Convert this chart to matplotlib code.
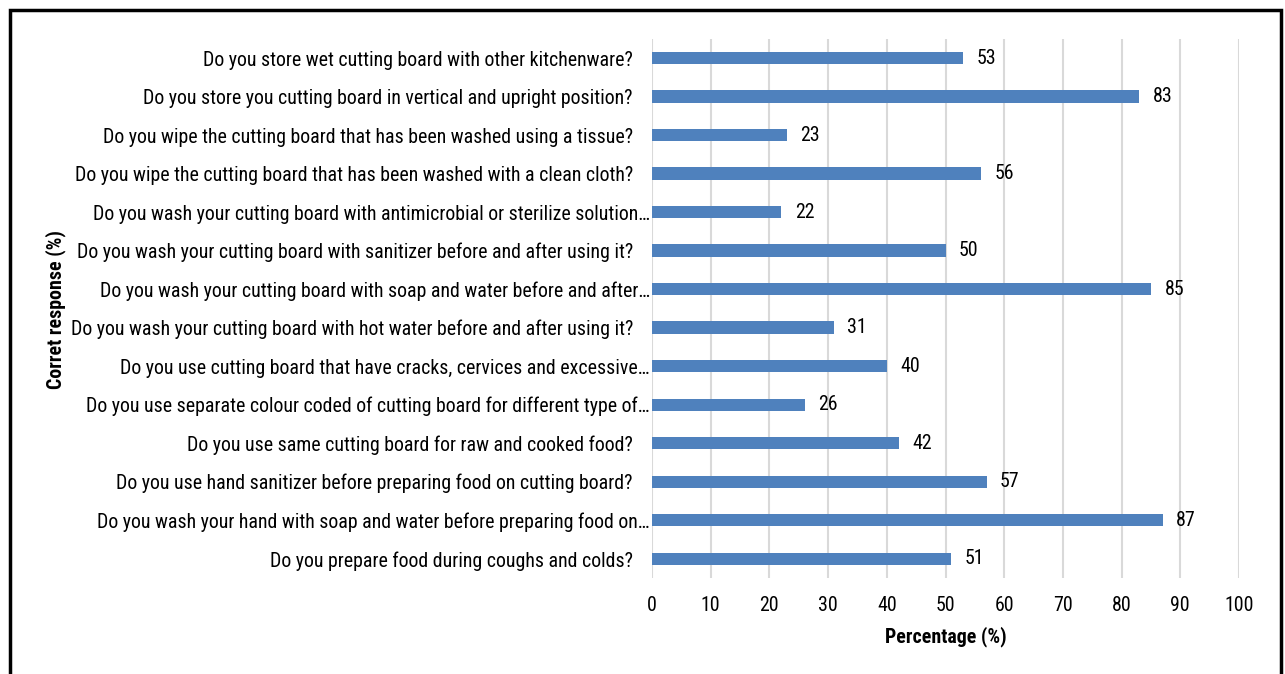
import matplotlib

matplotlib.use("Agg")

import matplotlib.pyplot as plt
from matplotlib.patches import Rectangle
from matplotlib.transforms import ScaledTranslation

plt.rcParams["font.family"] = ["Roboto Condensed", "Archivo Narrow", "Liberation Sans", "DejaVu Sans"]

questions = [
    "Do you store wet cutting board with other kitchenware?",
    "Do you store you cutting board in vertical and upright position?",
    "Do you wipe the cutting board that has been washed using a tissue?",
    "Do you wipe the cutting board that has been washed with a clean cloth?",
    "Do you wash your cutting board with antimicrobial or sterilize solution\u2026",
    "Do you wash your cutting board with sanitizer before and after using it?",
    "Do you wash your cutting board with soap and water before and after\u2026",
    "Do you wash your cutting board with hot water before and after using it?",
    "Do you use cutting board that have cracks, cervices and excessive\u2026",
    "Do you use separate colour coded of cutting board for different type of\u2026",
    "Do you use same cutting board for raw and cooked food?",
    "Do you use hand sanitizer before preparing food on cutting board?",
    "Do you wash your hand with soap and water before preparing food on\u2026",
    "Do you prepare food during coughs and colds?",
]
percent = [53, 83, 23, 56, 22, 50, 85, 31, 40, 26, 42, 57, 87, 51]
x_ticks = list(range(0, 101, 10))

BAR = "#4F81BD"
GRID = "#D9D9D9"
FS = 14.3

fig = plt.figure(figsize=(12.85, 6.74), dpi=100)
ax = fig.add_axes([0.5074, 0.1424, 0.4568, 0.8001])

# top question first
ypos = list(range(len(questions)))[::-1]
ax.barh(ypos, percent, height=0.32, color=BAR, zorder=3)
for y, v in zip(ypos, percent):
    ax.text(v + 2.3, y, f"{v}", va="center", ha="left", fontsize=FS, color="black")

ax.set_ylim(-0.5, len(questions) - 0.5)
ax.set_xlim(0, 100)
ax.set_xticks(x_ticks)
ax.set_yticks(ypos)
ax.set_yticklabels(questions, fontsize=FS)
ax.tick_params(axis="x", length=0, pad=13, labelsize=FS)
ax.tick_params(axis="y", length=0, pad=13.7)
ax.grid(axis="x", color=GRID, linewidth=1.5, zorder=0)
for s in ax.spines.values():
    s.set_visible(False)

# Excel lets the truncation ellipsis run into the label gap
shift = ScaledTranslation(17 / 100, 0, fig.dpi_scale_trans)
for lbl in ax.get_yticklabels():
    if lbl.get_text().endswith("\u2026"):
        lbl.set_transform(lbl.get_transform() + shift)

ax.set_xlabel("Percentage (%)", fontsize=FS, fontweight="bold", labelpad=8)
fig.text(0.043, 0.54, "Corret response (%)", rotation=90, va="center", ha="center",
         fontsize=FS, fontweight="bold")

# outer frame
fig.patches.append(Rectangle((10 / 1285, -0.05), 1271 / 1285, 1.05 - 10 / 674,
                             transform=fig.transFigure, fill=False,
                             edgecolor="black", linewidth=2.5))

fig.savefig("out.png", dpi=100)
